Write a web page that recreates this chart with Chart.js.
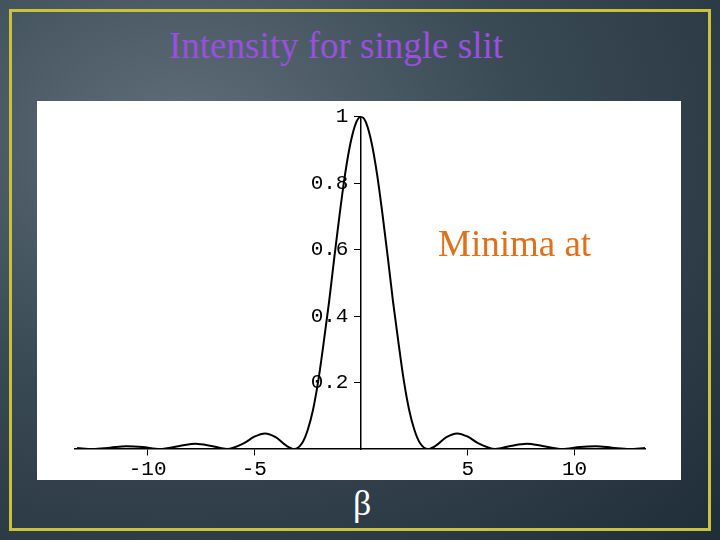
<!DOCTYPE html>
<html><head><meta charset="utf-8">
<script src="https://cdn.jsdelivr.net/npm/chart.js@4"></script>
<style>
body{margin:0;width:720px;height:540px;overflow:hidden;
 background:radial-gradient(ellipse at 25% 25%,#5f6e78 0%,#3a4a55 45%,#1f2d38 100%);font-family:"Liberation Serif",serif;position:relative}
#frame{position:absolute;left:9px;top:9px;width:702px;height:522px;border:3px solid #c9c23a;box-sizing:border-box}
#title{position:absolute;left:169px;top:24px;color:#9a4fe0;font-size:37px;white-space:nowrap}
#box{position:absolute;left:37px;top:101px;width:644px;height:379px;background:#fff}
#minima{position:absolute;left:438px;top:222px;color:#e0701a;font-size:37px}
#beta{position:absolute;left:353px;top:482px;color:#fff;font-size:36px}
</style></head><body>
<div id="frame"></div>
<div id="title">Intensity for single slit</div>
<div id="box"><canvas id="c" width="644" height="379"></canvas></div>
<div id="minima">Minima at</div>
<div id="beta">β</div>
<script>
// beta values and intensity (right half, mirrored)
const betaHalf = [0,0.25,0.5,0.75,1,1.25,1.5,1.75,2,2.25,2.5,2.75,3.14,3.5,4,4.5,5,5.5,6.28,7,7.75,8.5,9.42,10.25,11,11.75,12.57,13.3];
const intensityHalf = [1,0.979,0.919,0.826,0.708,0.578,0.442,0.321,0.207,0.118,0.057,0.019,0,0.010,0.036,0.047,0.037,0.017,0,0.009,0.016,0.009,0,0.006,0.008,0.004,0,0.003];
const xTicks = [-10,-5,5,10];
const yTicks = [0.2,0.4,0.6,0.8,1];

const pts = [];
for (let i = betaHalf.length-1; i > 0; i--) pts.push({x:-betaHalf[i], y:intensityHalf[i]});
for (let i = 0; i < betaHalf.length; i++) pts.push({x:betaHalf[i], y:intensityHalf[i]});

const mono = {family:'"Liberation Mono", monospace', size:21};
new Chart(document.getElementById('c'), {
  type:'scatter',
  data:{datasets:[{data:pts, showLine:true, borderColor:'#000', borderWidth:2, pointRadius:0, cubicInterpolationMode:'monotone'}]},
  options:{animation:false, responsive:false,
    layout:{padding:{left:38,right:36,top:10,bottom:31}},
    plugins:{legend:{display:false}, tooltip:{enabled:false}},
    scales:{
      x:{type:'linear', min:-13.4, max:13.3, position:{y:0},
        afterBuildTicks:a=>{a.ticks = xTicks.map(v=>({value:v}));},
        ticks:{color:'#000', font:mono, padding:2},
        grid:{drawOnChartArea:false, color:'#000', tickLength:6},
        border:{color:'#000', width:1.5}},
      y:{type:'linear', min:0, max:1, position:{x:0},
        afterBuildTicks:a=>{a.ticks = yTicks.map(v=>({value:v}));},
        ticks:{color:'#000', font:mono, callback:v=>(v===1?'1':v.toFixed(1))+' '},
        grid:{drawOnChartArea:false, color:'#000', tickLength:6},
        border:{color:'#000', width:1.5}}
    }}
});
</script>
</body></html>
